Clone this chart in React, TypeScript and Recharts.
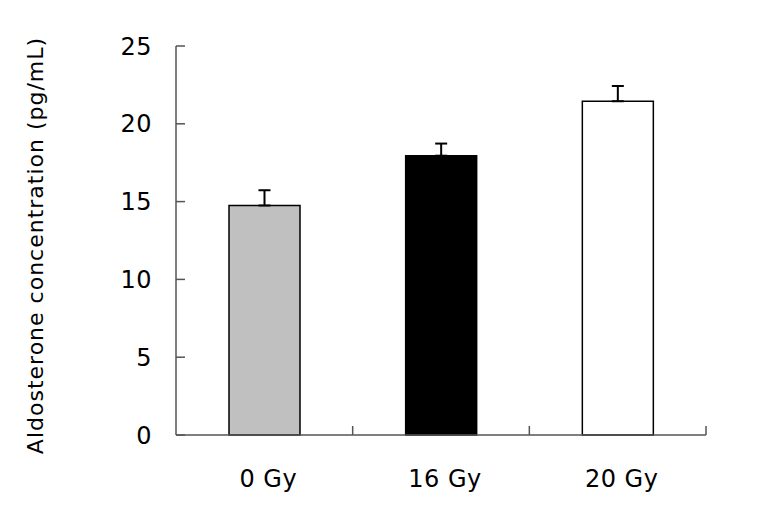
import React from "react";
import { BarChart, Bar, XAxis, YAxis, ErrorBar, Cell, Label } from "recharts";

const categories = ["0 Gy", "16 Gy", "20 Gy"];
const means = [14.75, 17.95, 21.45];
const sems = [0.98, 0.78, 0.98];
const fills = ["#c0c0c0", "#000000", "#ffffff"];
const yTicks = [0, 5, 10, 15, 20, 25];

const data = categories.map((c, i) => ({ name: c, value: means[i], err: [0, sems[i]] }));

const FONT = "'DejaVu Sans', Verdana, sans-serif";
const X_MARGIN = 35;

const XTick = (props: any) => {
  const { x, y, payload } = props;
  const axisY = y - X_MARGIN;
  const off = payload.offset || 0;
  return (
    <g>
      <line x1={payload.coordinate + off} x2={payload.coordinate + off} y1={axisY} y2={axisY - 9} stroke="#555" strokeWidth={1.5} />
      <text x={x + 4} y={y} dy="0.71em" textAnchor="middle" fontSize={24} letterSpacing={0.5} fontFamily={FONT} fill="#000">
        {payload.value}
      </text>
    </g>
  );
};

export default function App() {
  return (
    <div style={{ position: "absolute", left: 0, top: 0, background: "#fff" }}>
      <BarChart
        width={761}
        height={512}
        data={data}
        margin={{ top: 46, right: 55, bottom: 0, left: 0 }}
        barCategoryGap="30%"
      >
        <XAxis
          dataKey="name"
          height={77}
          tickLine={false}
          tickSize={0}
          tickMargin={X_MARGIN}
          tick={<XTick />}
          axisLine={{ stroke: "#555", strokeWidth: 1.5 }}
          interval={0}
        />
        <YAxis
          width={176}
          domain={[0, 25]}
          ticks={yTicks}
          tickSize={-9}
          tickMargin={33}
          tickLine={{ stroke: "#555", strokeWidth: 1.5 }}
          axisLine={{ stroke: "#555", strokeWidth: 1.5 }}
          tick={{ fontSize: 24, fontFamily: FONT, fill: "#000", letterSpacing: 0.5 }}
          interval={0}
        >
          <Label
            content={(props: any) => {
              const vb = props.viewBox || {};
              const cy = (vb.y || 0) + (vb.height || 0) / 2 + 5;
              return (
                <text
                  x={35}
                  y={cy}
                  transform={`rotate(-90, 35, ${cy})`}
                  textAnchor="middle"
                  dominantBaseline="central"
                  fontSize={22}
                  letterSpacing={1}
                  fontFamily={FONT}
                  fill="#000"
                >
                  Aldosterone concentration (pg/mL)
                </text>
              );
            }}
          />
        </YAxis>
        <Bar dataKey="value" isAnimationActive={false} stroke="#000" strokeWidth={1.5}>
          {data.map((d, i) => (
            <Cell key={d.name} fill={fills[i]} />
          ))}
          <ErrorBar dataKey="err" width={6} stroke="#000" strokeWidth={2} direction="y" />
        </Bar>
      </BarChart>
    </div>
  );
}
